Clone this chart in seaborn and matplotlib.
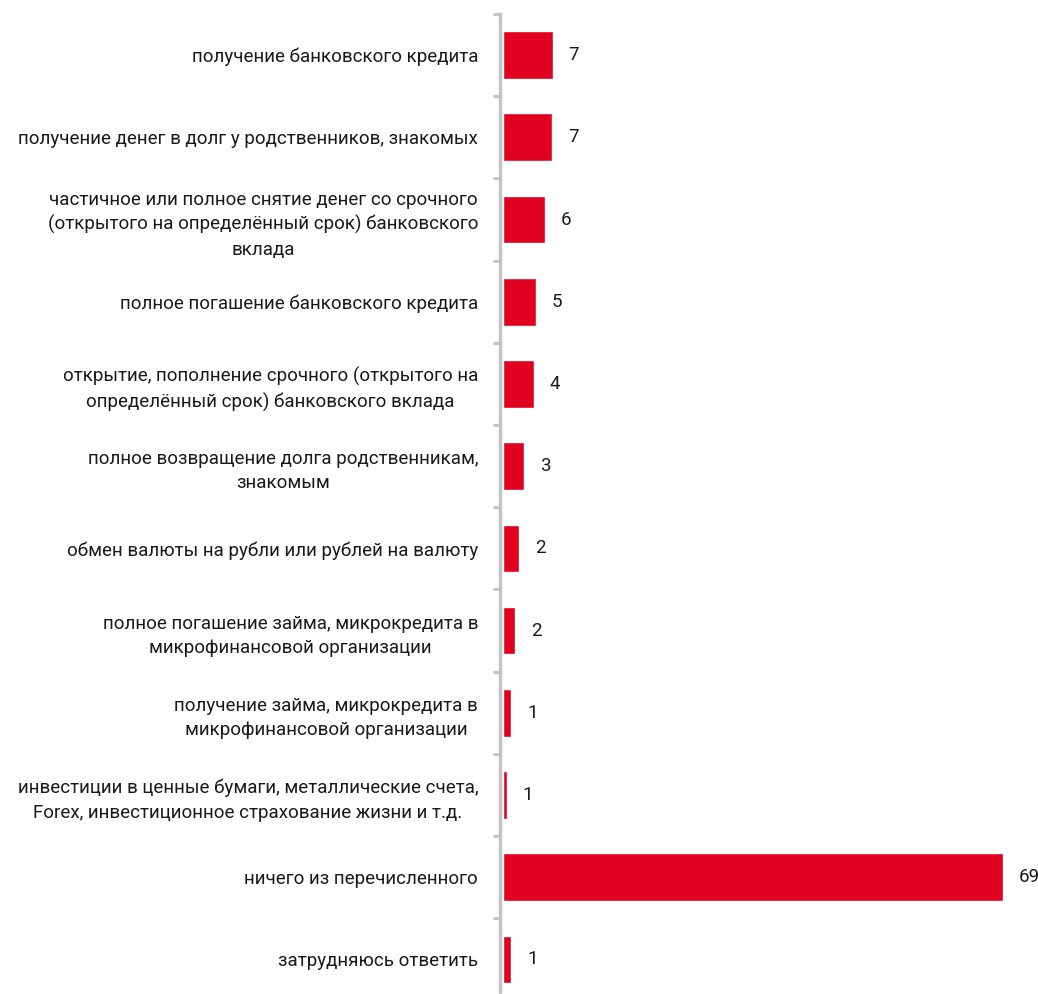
import matplotlib
matplotlib.use("Agg")
import matplotlib.pyplot as plt
import seaborn as sns
import pandas as pd

# Данные
categories = [
    "получение банковского кредита",
    "получение денег в долг у родственников, знакомых",
    "частичное или полное снятие денег со срочного\n(открытого на определённый срок) банковского\nвклада",
    "полное погашение банковского кредита",
    "открытие, пополнение срочного (открытого на\nопределённый срок) банковского вклада",
    "полное возвращение долга родственникам,\nзнакомым",
    "обмен валюты на рубли или рублей на валюту",
    "полное погашение займа, микрокредита в\nмикрофинансовой организации",
    "получение займа, микрокредита в\nмикрофинансовой организации",
    "инвестиции в ценные бумаги, металлические счета,\nForex, инвестиционное страхование жизни и т.д.",
    "ничего из перечисленного",
    "затрудняюсь ответить",
]
values = [6.9, 6.8, 5.9, 4.6, 4.3, 3.0, 2.3, 1.7, 1.2, 0.6, 69, 1.2]
value_labels = ["7", "7", "6", "5", "4", "3", "2", "2", "1", "1", "69", "1"]

df = pd.DataFrame({"cat": categories, "val": values})

sns.set_style("white")
plt.rcParams["font.family"] = ["Roboto", "DejaVu Sans"]

red = "#e0001f"
grey = "#c4c4c4"
txt = "#1a1a1a"
fs = 13.5

fig = plt.figure(figsize=(10.38, 9.94), dpi=100)
ax = fig.add_axes([502.5 / 1038, -0.0065, 536.5 / 1038, 0.9924])

sns.barplot(data=df, x="val", y="cat", orient="h", color=red, saturation=1,
            width=0.58, ax=ax)

ax.set_xlim(0, 74)
ax.set_ylim(11.5, -0.5)
ax.set_xlabel("")
ax.set_ylabel("")
ax.set_xticks([])

# оси и деления
ax.set_yticks(range(len(categories)))
ax.set_yticks([i - 0.5 for i in range(len(categories) + 1)], minor=True)
ax.tick_params(axis="y", which="major", left=False, length=0, pad=16)
ax.tick_params(axis="y", which="minor", left=True, length=5, width=2.2,
               color=grey, direction="out")

for s in ["top", "right", "bottom"]:
    ax.spines[s].set_visible(False)
ax.spines["left"].set_color(grey)
ax.spines["left"].set_linewidth(2.5)
ax.spines["left"].set_position(("outward", 1.5))

# подписи категорий
ax.set_yticklabels(categories)
for t in ax.get_yticklabels():
    t.set_fontsize(fs)
    t.set_color(txt)
    t.set_multialignment("center")
    t.set_linespacing(1.45)

# подписи значений
for bar, lab in zip(ax.patches, value_labels):
    ax.annotate(lab, (bar.get_width(), bar.get_y() + bar.get_height() / 2),
                xytext=(11.5, 0), textcoords="offset points",
                ha="left", va="center", fontsize=fs, color=txt)

plt.savefig("out.png", dpi=100)
